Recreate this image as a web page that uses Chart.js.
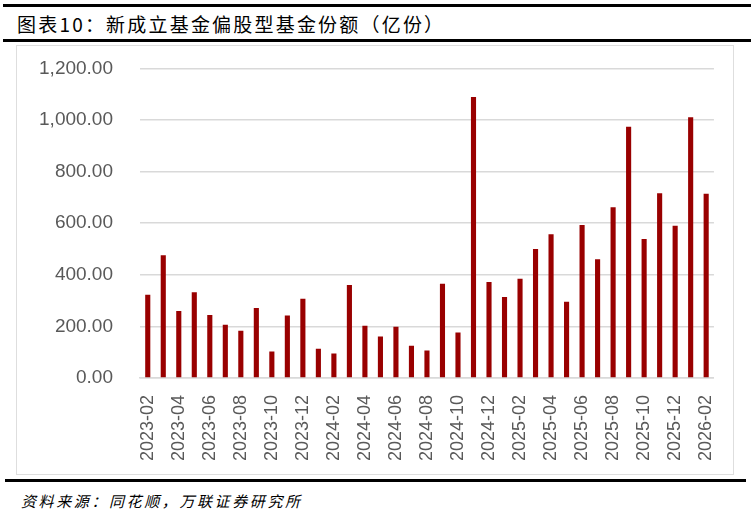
<!DOCTYPE html>
<html><head><meta charset="utf-8">
<script src="https://cdn.jsdelivr.net/npm/chart.js@4/dist/chart.umd.min.js"></script>
<style>
html,body{margin:0;padding:0;background:#fff;width:751px;height:513px;overflow:hidden;font-family:"Liberation Sans","Noto Sans CJK SC",sans-serif;}
.line{position:absolute;background:#000;}
#title{position:absolute;left:17px;top:12px;font-family:"Noto Sans CJK SC";font-size:19px;line-height:24px;letter-spacing:2.2px;color:#000;white-space:nowrap;}
#src{position:absolute;left:21px;top:491px;font-family:"Noto Sans CJK SC";font-size:15px;line-height:20px;letter-spacing:2.6px;font-style:italic;color:#000;white-space:nowrap;}
#box{position:absolute;left:16px;top:45px;width:716px;height:428px;border:1.5px solid #dedede;}
#wrap{position:absolute;left:16px;top:30px;width:721px;height:445px;}
</style></head>
<body>
<div class="line" style="left:3px;top:4px;width:748px;height:3px;"></div>
<div id="title">图表10：新成立基金偏股型基金份额（亿份）</div>
<div class="line" style="left:3px;top:39px;width:748px;height:3px;"></div>
<div id="box"></div>
<div id="wrap"><canvas id="c" width="721" height="445"></canvas></div>
<div class="line" style="left:5px;top:479px;width:741px;height:3px;"></div>
<div id="src">资料来源：同花顺，万联证券研究所</div>
<script>
const months = ["2023-02","2023-03","2023-04","2023-05","2023-06","2023-07","2023-08","2023-09","2023-10","2023-11","2023-12",
"2024-01","2024-02","2024-03","2024-04","2024-05","2024-06","2024-07","2024-08","2024-09","2024-10","2024-11","2024-12",
"2025-01","2025-02","2025-03","2025-04","2025-05","2025-06","2025-07","2025-08","2025-09","2025-10","2025-11","2025-12",
"2026-01","2026-02"];
const shares = [323,476,260,332,244,206,183,271,103,242,307,113,95,360,203,161,199,125,107,365,176,1089,372,314,385,500,557,296,593,460,662,974,539,716,590,1011,714];
const yTicks = [0,200,400,600,800,1000,1200];

const fmt = v => v.toLocaleString('en-US',{minimumFractionDigits:2,maximumFractionDigits:2});

new Chart(document.getElementById('c'), {
  type:'bar',
  data:{labels:months,datasets:[{data:shares,backgroundColor:'#990000',borderWidth:0,barPercentage:0.33,categoryPercentage:1}]},
  options:{
    responsive:false,animation:false,
    layout:{padding:{left:0,right:17,top:0,bottom:0}},
    plugins:{legend:{display:false},tooltip:{enabled:false}},
    scales:{
      x:{
        grid:{display:false},
        border:{display:true,color:'#d9d9d9',width:1.5},
        ticks:{autoSkip:false,maxRotation:90,minRotation:90,padding:9,color:'#595959',
          font:{family:'Liberation Sans',size:18},
          callback:function(v,i){return i%2===0?months[i]:'';}},
        afterFit:s=>{s.height=97;}
      },
      y:{
        min:0,max:1200,
        afterBuildTicks:s=>{s.ticks=yTicks.map(v=>({value:v}));},
        grid:{color:'#d9d9d9',lineWidth:1.5,drawTicks:false},
        border:{display:false},
        ticks:{padding:27,color:'#595959',font:{family:'Liberation Sans',size:19},callback:v=>fmt(v)},
        afterFit:s=>{s.width=124;}
      }
    }
  }
});
</script>
</body></html>
